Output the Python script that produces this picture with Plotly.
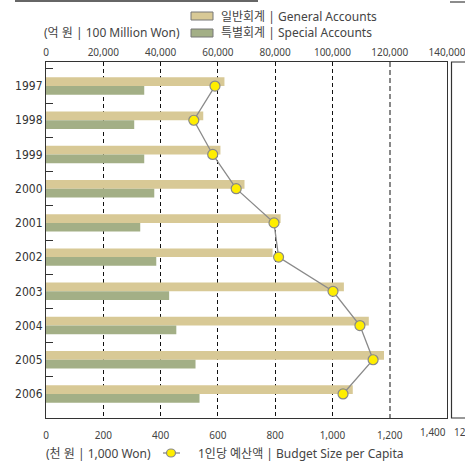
import plotly.graph_objects as go

years = ["1997", "1998", "1999", "2000", "2001", "2002", "2003", "2004", "2005", "2006"]
general_accounts = [62300, 54900, 60900, 69300, 81900, 79100, 104000, 112700, 118000, 107100]
special_accounts = [34300, 30800, 34300, 37800, 32900, 38500, 43000, 45500, 52200, 53600]
budget_per_capita = [590, 516, 582, 664, 796, 812, 1002, 1096, 1142, 1037]

top_ticks = [0, 20000, 40000, 60000, 80000, 100000, 120000, 140000]
bottom_ticks = [0, 200, 400, 600, 800, 1000, 1200]
bottom_last_tick = 1400

FONT = "Noto Sans, Noto Sans CJK KR, sans-serif"
YFONT = "DejaVu Sans Condensed, Liberation Sans Narrow, Noto Sans, sans-serif"
TXT = "#444444"
GEN = "#D8C996"
SPE = "#A3AF86"

fig = go.Figure()
fig.add_trace(go.Bar(y=years, x=general_accounts, orientation="h", name="일반회계 | General Accounts",
                     marker=dict(color=GEN, line=dict(width=0)), xaxis="x", yaxis="y", showlegend=False))
fig.add_trace(go.Bar(y=years, x=special_accounts, orientation="h", name="특별회계 | Special Accounts",
                     marker=dict(color=SPE, line=dict(width=0)), xaxis="x", yaxis="y", showlegend=False))
fig.add_trace(go.Scatter(y=years, x=budget_per_capita, mode="lines+markers", name="1인당 예산액 | Budget Size per Capita",
                         line=dict(color="#8a8a8a", width=1.3),
                         marker=dict(size=10, color="#FFEE00", line=dict(color="#888888", width=1.2)),
                         xaxis="x2", yaxis="y", showlegend=False, cliponaxis=False))

L, R, T, B = 46, 18, 62, 46
W, H = 465, 464
pw, ph = W - L - R, H - T - B

def px(x):
    return (x - L) / pw

def py(y):
    return (H - B - y) / ph

fig.update_layout(
    width=W, height=H,
    margin=dict(l=L, r=R, t=T, b=B, pad=0, autoexpand=False),
    paper_bgcolor="white", plot_bgcolor="white",
    barmode="group", bargap=0.49, bargroupgap=0,
    font=dict(family=FONT, size=11, color=TXT),
    xaxis=dict(side="top", range=[0, 140000], tickvals=top_ticks, tickformat=",d", automargin=False,
               showgrid=False, zeroline=False, showline=True, linecolor="#333", linewidth=1.2,
               ticks="", ticklabelstandoff=1, ticklabeloverflow="allow", tickfont=dict(size=10, color=TXT),
               minor=dict(tickvals=top_ticks[1:6], showgrid=True, gridcolor="#111", griddash="4px,3px", gridwidth=1, ticks="")),
    xaxis2=dict(side="bottom", overlaying="x", anchor="y", range=[0, 1400], tickvals=bottom_ticks, tickformat=",d",
                automargin=False,
                showgrid=False, zeroline=False, showline=True, linecolor="#333", linewidth=1.2,
                ticks="", ticklabelstandoff=8, ticklabeloverflow="allow", tickfont=dict(size=10, color=TXT),
                minor=dict(tickvals=[1200], showgrid=True, gridcolor="#888", griddash="5px,3px", gridwidth=1.5, ticks="")),
    yaxis=dict(type="category", categoryorder="array", categoryarray=years, autorange="reversed", automargin=False,
               showline=True, mirror=True, linecolor="#333", linewidth=1.2,
               ticks="inside", tickson="boundaries", ticklen=7, tickcolor="#333", tickwidth=1,
               showgrid=False, tickfont=dict(size=12, color="#333", family=YFONT)),
)

shapes = []
# legend swatches
shapes.append(dict(type="rect", xref="paper", yref="paper", x0=px(191), x1=px(213), y0=py(20), y1=py(12),
                   fillcolor=GEN, line=dict(color="#777", width=1)))
shapes.append(dict(type="rect", xref="paper", yref="paper", x0=px(191), x1=px(213), y0=py(37), y1=py(29),
                   fillcolor=SPE, line=dict(color="#777", width=1)))
# line legend
shapes.append(dict(type="line", xref="paper", yref="paper", x0=px(163), x1=px(180), y0=py(453), y1=py(453),
                   line=dict(color="#8a8a8a", width=1.3)))
shapes.append(dict(type="circle", xref="paper", yref="paper", xsizemode="pixel", ysizemode="pixel",
                   xanchor=px(171), yanchor=py(453), x0=-4.5, x1=4.5, y0=-4, y1=4,
                   fillcolor="#FFEE00", line=dict(color="#888", width=1.2)))
# neighbouring panel fragments
shapes.append(dict(type="rect", xref="paper", yref="paper", x0=px(451.5), x1=px(470), y0=py(418), y1=py(62),
                   line=dict(color="#333", width=1.2), fillcolor="rgba(0,0,0,0)"))
shapes.append(dict(type="line", xref="paper", yref="paper", x0=px(15), x1=px(258), y0=py(1), y1=py(1),
                   line=dict(color="#666", width=2)))
shapes.append(dict(type="line", xref="paper", yref="paper", x0=px(450), x1=px(466), y0=py(2), y1=py(2),
                   line=dict(color="#666", width=1.5)))
fig.update_layout(shapes=shapes)

ann = []
def text(x, y, s, size=12, anchor="left"):
    ann.append(dict(xref="paper", yref="paper", x=px(x), y=py(y), text=s, showarrow=False,
                    xanchor=anchor, yanchor="middle", font=dict(size=size, color=TXT, family=FONT)))

text(42, 33, "(억 원 | 100 Million Won)")
text(219, 16, "일반회계 | General Accounts")
text(219, 33, "특별회계 | Special Accounts")
text(44, 453, "(천 원 | 1,000 Won)")
text(196, 453, "1인당 예산액 | Budget Size per Capita")
text(452, 432, "12", size=10)
# last bottom tick label, kept right-aligned to its tick as in the source
ann.append(dict(xref="x2", yref="paper", x=bottom_last_tick, y=py(432), text=f"{bottom_last_tick:,}",
                showarrow=False, xanchor="right", yanchor="middle", xshift=1,
                font=dict(size=10, color=TXT, family=FONT)))
fig.update_layout(annotations=ann)

fig.write_html("out.html", config={"displayModeBar": False},
               post_script="document.body.style.margin='0';document.body.style.overflow='hidden';")
